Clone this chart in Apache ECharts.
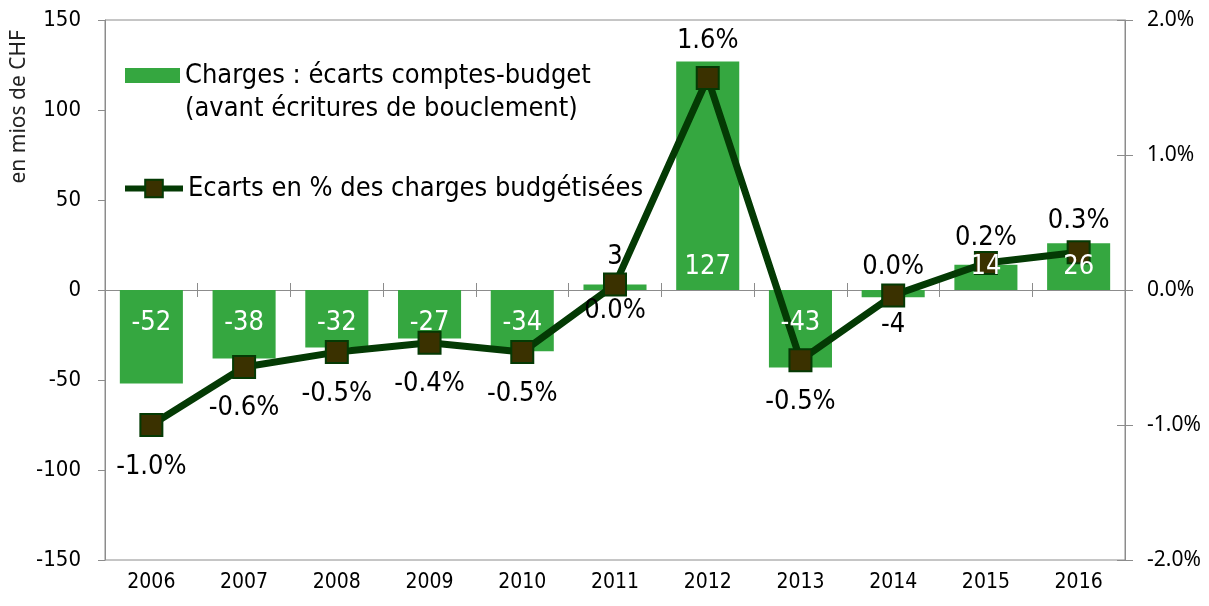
<!DOCTYPE html>
<html><head><meta charset="utf-8">
<script src="https://cdn.jsdelivr.net/npm/echarts@6/dist/echarts.min.js"></script>
<style>html,body{margin:0;padding:0;background:#fff}#c{width:1209px;height:606px}</style>
</head><body><div id="c"></div>
<script>
const categories = ['2006','2007','2008','2009','2010','2011','2012','2013','2014','2015','2016'];
const ecartsMios = [-52,-38,-32,-27,-34,3,127,-43,-4,14,26];
const ecartsPct = [-1.0,-0.57,-0.46,-0.39,-0.46,0.04,1.57,-0.52,-0.04,0.2,0.28];
const leftTicks = {min:-150, max:150, interval:50};
const rightTicks = {min:-2, max:2, interval:1};
const barNameLines = ['Charges : écarts comptes-budget', '(avant écritures de bouclement)'];
const barName = barNameLines.join(' ');
const lineName = 'Ecarts en % des charges budgétisées';

const NARROW = '"Liberation Sans Narrow","DejaVu Sans Condensed","Arial Narrow",sans-serif';
const NORMAL = '"Noto Sans","Open Sans",sans-serif';
const AXIS = '#8c8c8c';
const BAR = '#35a740';
const LINE = '#043a04';
const MARK = '#3a3100';

// label placement for the % line (style, not data)
const pctAbove = new Set([6,8,9,10]);
const pctDist = {5: 1, 6: 12, 8: 3, 9: 0};

const barLabelData = ecartsMios.map(v => {
  const small = Math.abs(v) < 10;
  return {
    value: v,
    label: {
      position: small ? (v >= 0 ? 'top' : 'bottom') : (v >= 0 ? 'insideBottom' : 'insideTop'),
      color: small ? '#000' : '#fff',
      distance: small ? 14 : (v >= 0 ? 10 : 19)
    }
  };
});
const lineData = ecartsPct.map((v, i) => ({
  value: v,
  label: { position: pctAbove.has(i) ? 'top' : 'bottom',
           distance: (i in pctDist) ? pctDist[i] : (pctAbove.has(i) ? 6 : 16) }
}));

const chart = echarts.init(document.getElementById('c'), null, {renderer: 'canvas'});
chart.setOption({
  animation: false,
  backgroundColor: '#fff',
  grid: { left: 105, right: 84, top: 20, bottom: 46, show: true, borderColor: AXIS, borderWidth: 1, containLabel: false },
  legend: [
    {
      data: [barName], left: 125, top: 29, padding: 0,
      itemWidth: 55, itemHeight: 15, icon: 'rect',
      formatter: () => '{s| }\n{t|' + barNameLines.join('}\n{t|') + '}',
      textStyle: { fontFamily: NARROW, fontSize: 27, color: '#000',
        rich: { s: { fontSize: 27, lineHeight: 33, fontFamily: NARROW }, t: { fontSize: 27, lineHeight: 33, fontFamily: NARROW, color: '#000' } } }
    },
    {
      data: [lineName], left: 122, top: 172, padding: 0,
      itemWidth: 58, itemHeight: 22,
      lineStyle: { width: 6 },
      textStyle: { fontFamily: NARROW, fontSize: 27, lineHeight: 33, color: '#000' }
    }
  ],
  graphic: [{
    type: 'text', left: 9, top: 30, rotation: Math.PI / 2,
    style: { text: 'en mios de CHF', fontFamily: NORMAL, fontSize: 21, fill: '#222' }
  }],
  xAxis: [
    { type: 'category', data: categories, position: 'bottom',
      axisLine: { show: false, onZero: false }, axisTick: { show: false },
      axisLabel: { fontFamily: NARROW, fontSize: 21, color: '#000', margin: 12 } },
    { type: 'category', data: categories, position: 'bottom',
      axisLine: { show: true, onZero: true, onZeroAxisIndex: 0, lineStyle: { color: AXIS } },
      axisTick: { show: true, length: 7, lineStyle: { color: AXIS } }, axisLabel: { show: false } },
    { type: 'category', data: categories, position: 'bottom',
      axisLine: { show: false, onZero: true, onZeroAxisIndex: 0 },
      axisTick: { show: true, inside: true, length: 7, lineStyle: { color: AXIS } }, axisLabel: { show: false } }
  ],
  yAxis: [
    { type: 'value', position: 'left', min: leftTicks.min, max: leftTicks.max, interval: leftTicks.interval,
      splitLine: { show: false },
      axisLine: { show: true, lineStyle: { color: AXIS } },
      axisTick: { show: true, length: 7, lineStyle: { color: AXIS } },
      axisLabel: { fontFamily: NARROW, fontSize: 22, color: '#000', margin: 24 } },
    { type: 'value', position: 'right', min: rightTicks.min, max: rightTicks.max, interval: rightTicks.interval,
      splitLine: { show: false },
      axisLine: { show: true, lineStyle: { color: AXIS } },
      axisTick: { show: true, length: 8, lineStyle: { color: AXIS } },
      axisLabel: { fontFamily: NORMAL, fontSize: 21, color: '#000', margin: 22, formatter: v => v.toFixed(1) + '%' } },
    { type: 'value', position: 'right', min: rightTicks.min, max: rightTicks.max, interval: rightTicks.interval,
      splitLine: { show: false }, axisLine: { show: false },
      axisTick: { show: true, inside: true, length: 8, lineStyle: { color: AXIS } },
      axisLabel: { show: false } }
  ],
  series: [
    { name: barName, type: 'bar', xAxisIndex: 0, yAxisIndex: 0, data: ecartsMios, z: 2,
      barCategoryGap: '32%', itemStyle: { color: BAR }, label: { show: false } },
    { name: lineName, type: 'line', xAxisIndex: 0, yAxisIndex: 1, data: lineData, z: 3,
      symbol: 'rect', symbolSize: 22, showAllSymbol: true,
      lineStyle: { color: LINE, width: 7 },
      itemStyle: { color: MARK, borderColor: LINE, borderWidth: 2 },
      label: { show: true, fontFamily: NARROW, fontSize: 27, color: '#000',
        formatter: p => (Math.abs(p.value) < 0.05 ? '0.0' : p.value.toFixed(1)) + '%' } },
    { name: 'barLabels', type: 'bar', xAxisIndex: 0, yAxisIndex: 0, data: barLabelData, z: 4,
      barCategoryGap: '32%', barGap: '-100%', silent: true,
      itemStyle: { color: 'rgba(0,0,0,0)' },
      label: { show: true, fontFamily: NARROW, fontSize: 27, formatter: p => String(p.value) } }
  ]
});
</script></body></html>
